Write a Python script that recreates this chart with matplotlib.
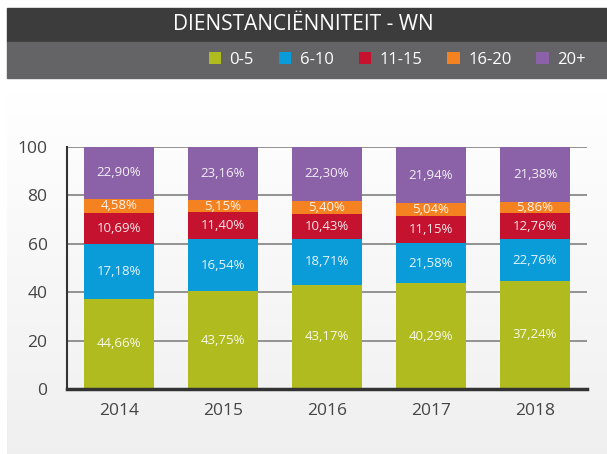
import numpy as np
import matplotlib.pyplot as plt
from matplotlib.patches import Rectangle

plt.rcParams['font.family'] = ['Open Sans', 'DejaVu Sans']

# data (labels as printed, per year)
years = ['2014', '2015', '2016', '2017', '2018']
groups = ['0-5', '6-10', '11-15', '16-20', '20+']
v_0_5 = [44.66, 43.75, 43.17, 40.29, 37.24]
v_6_10 = [17.18, 16.54, 18.71, 21.58, 22.76]
v_11_15 = [10.69, 11.40, 10.43, 11.15, 12.76]
v_16_20 = [4.58, 5.15, 5.40, 5.04, 5.86]
v_20p = [22.90, 23.16, 22.30, 21.94, 21.38]
colors = ['#b0bb1f', '#0a9bd9', '#c4122f', '#f58220', '#8b62a8']

series = [v_0_5, v_6_10, v_11_15, v_16_20, v_20p]

fig = plt.figure(figsize=(6.07, 4.54), dpi=100)
fig.patch.set_facecolor('white')

# light gradient panel behind the chart
bg = fig.add_axes([7/607, 0, 1 - 7/607, 366/454], zorder=-10)
grad = np.linspace(1.0, 0.94, 100).reshape(-1, 1)
bg.imshow(np.dstack([grad, grad, grad]), aspect='auto', extent=[0, 1, 0, 1])
bg.axis('off')

# title bar and legend bar
fig.patches.append(Rectangle((7/607, 1 - 42/454), 1, 34/454, transform=fig.transFigure,
                             color='#3c3c3c', zorder=0))
fig.patches.append(Rectangle((7/607, 1 - 78/454), 1, 36/454, transform=fig.transFigure,
                             color='#646466', zorder=0))
fig.text(0.5, 1 - 25/454, 'DIENSTANCIËNNITEIT - WN', color='white', fontsize=15,
         ha='center', va='center')

ax = fig.add_axes([67/607, 65/454, 520/607, 242/454])
ax.set_facecolor('none')
x = np.arange(len(years))
bottom = np.zeros(len(years))
handles = []
for vals, col, name in zip(series, colors, groups):
    # the source chart draws the segment heights in reverse year order
    h = np.array(vals[::-1])
    b = ax.bar(x, h, 0.67, bottom=bottom, color=col, zorder=2, label=name)
    handles.append(b)
    for xi, bt, hh, v in zip(x, bottom, h, vals):
        ax.text(xi, bt + hh / 2, ('%.2f%%' % v).replace('.', ','), ha='center', va='center',
                color='white', alpha=0.9, fontsize=9.5, zorder=3)
    bottom += h

ax.set_xlim(-0.5, 4.5)
ax.set_ylim(0, 100)
ax.set_yticks([0, 20, 40, 60, 80, 100])
ax.set_xticks(x)
ax.set_xticklabels(years)
ax.tick_params(length=0, labelsize=12.5, labelcolor='#444444')
ax.tick_params(axis='y', pad=14)
ax.tick_params(axis='x', pad=10)
ax.yaxis.grid(True, color='#8a8a8a', linewidth=1.3, zorder=0)
ax.set_axisbelow(True)
for s in ['top', 'right']:
    ax.spines[s].set_visible(False)
ax.spines['left'].set_color('#333333')
ax.spines['left'].set_linewidth(1.5)
ax.spines['bottom'].set_color('#333333')
ax.spines['bottom'].set_linewidth(2.5)

fig.legend(handles=handles, labels=groups, loc='center right',
           bbox_to_anchor=(0.99, 1 - 60/454), ncol=5, frameon=False,
           fontsize=12, labelcolor='white', handlelength=0.75, handleheight=0.75,
           handletextpad=0.5, columnspacing=1.5)

plt.savefig('out.png', dpi=100)
